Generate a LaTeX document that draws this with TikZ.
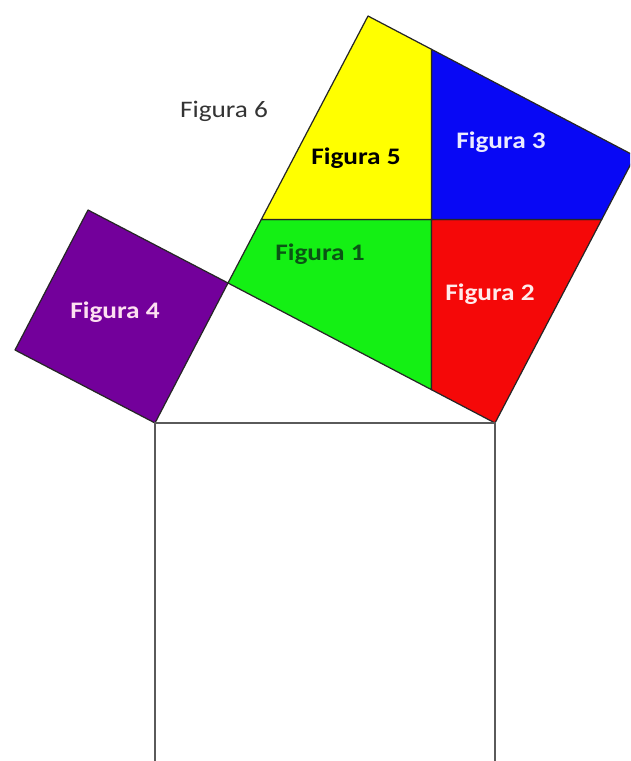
\documentclass[tikz,border=0pt]{standalone}
\usepackage{fontspec}
\newfontfamily\figfont[FakeStretch=1.15]{Carlito}
\definecolor{figyellow}{RGB}{255,255,0}
\definecolor{figblue}{RGB}{8,8,245}
\definecolor{figgreen}{RGB}{20,240,20}
\definecolor{figred}{RGB}{245,8,8}
\definecolor{figpurple}{RGB}{115,0,155}
\definecolor{figtextgreen}{RGB}{10,85,20}
\definecolor{figframe}{RGB}{90,90,90}
\begin{document}
\begin{tikzpicture}[x=0.02cm, y=-0.02cm]
\tikzset{piece/.style={draw=black!85, line width=0.7pt, line join=round}}
\tikzset{piecelabel/.style={font=\figfont\bfseries\fontsize{13.5}{16}\selectfont, anchor=base, inner sep=0pt}}
\useasboundingbox (0,0) rectangle (630,761);
\clip (0,0) rectangle (630,761);
% right triangle
\coordinate (A) at (155,423);
\coordinate (B) at (495,423);
\coordinate (C) at (228,283);
% square on the short leg
\coordinate (P1) at (88,210);
\coordinate (P2) at (15,350);
% square on the long leg, cut through its centre
\coordinate (Q1) at (368,16);
\coordinate (Q2) at (635,156);
\coordinate (O)  at (431.5,219.5);
\coordinate (T)  at (431.5,49.3);
\coordinate (U)  at (431.5,389.7);
\coordinate (L)  at (261.3,219.5);
\coordinate (R)  at (601.7,219.5);
% pieces
\filldraw[piece, fill=figgreen]  (C) -- (U) -- (O) -- (L) -- cycle;
\filldraw[piece, fill=figred]    (U) -- (B) -- (R) -- (O) -- cycle;
\filldraw[piece, fill=figblue]   (O) -- (R) -- (Q2) -- (T) -- cycle;
\filldraw[piece, fill=figyellow] (L) -- (O) -- (T) -- (Q1) -- cycle;
\filldraw[piece, fill=figpurple] (A) -- (C) -- (P1) -- (P2) -- cycle;
% square on the hypotenuse
\draw[figframe, line width=1.6pt] (A) rectangle ++(340,340);
% labels
\node (f1) [piecelabel, text=figtextgreen]   at (320,260) {Figura 1};
\node (f2) [piecelabel, text=red!8!white]    at (490,300) {Figura 2};
\node (f3) [piecelabel, text=blue!8!white]   at (501,148) {Figura 3};
\node (f4) [piecelabel, text=magenta!12!white] at (115,318) {Figura 4};
\node (f5) [piecelabel, text=black]          at (356,164) {Figura 5};
\node (f6) [piecelabel, text=black!80, font=\figfont\fontsize{13.5}{16}\selectfont] at (224,117) {Figura 6};
\end{tikzpicture}
\end{document}
